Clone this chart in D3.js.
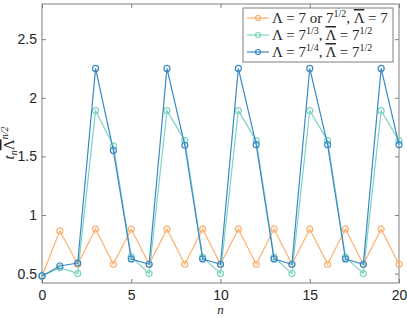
<!DOCTYPE html>
<html>
<head>
<meta charset="utf-8">
<script src="https://cdn.jsdelivr.net/npm/d3@7"></script>
<style>
  body { margin: 0; background: #fff; }
  svg text { fill: #262626; }
</style>
</head>
<body>
<div id="chart"></div>
<script>
// n = 0..20
var nValues = d3.range(0, 21);

// Lambda = 7 or 7^(1/2), LambdaBar = 7
var seriesA = [0.48, 0.865, 0.58, 0.88, 0.58, 0.88, 0.58, 0.88, 0.58, 0.88, 0.58,
               0.88, 0.58, 0.88, 0.58, 0.88, 0.58, 0.88, 0.58, 0.88, 0.58];
// Lambda = 7^(1/3), LambdaBar = 7^(1/2)
var seriesB = [0.48, 0.55, 0.50, 1.89, 1.59, 0.645, 0.50, 1.89, 1.635, 0.64, 0.50,
               1.89, 1.635, 0.64, 0.50, 1.89, 1.635, 0.64, 0.50, 1.89, 1.635];
// Lambda = 7^(1/4), LambdaBar = 7^(1/2)
var seriesC = [0.48, 0.565, 0.59, 2.25, 1.55, 0.625, 0.58, 2.25, 1.595, 0.625, 0.58,
               2.25, 1.60, 0.625, 0.58, 2.25, 1.60, 0.625, 0.58, 2.25, 1.60];

var xTicks = [0, 5, 10, 15, 20];
var yTicks = [0.5, 1, 1.5, 2, 2.5];
var colors = ['#fdae6b', '#7fd3c1', '#3a88c5'];

var width = 407, height = 318;
var margin = {top: 4, right: 8, bottom: 35, left: 42};

var svg = d3.select('#chart').append('svg')
    .attr('width', width)
    .attr('height', height);

var x = d3.scaleLinear().domain([0, 20]).range([margin.left, width - margin.right]);
var y = d3.scaleLinear().domain([0.42, 2.8]).range([height - margin.bottom, margin.top]);

var axisColor = '#7f7f7f';
var tickFont = '"Liberation Sans", Arial, sans-serif';

// axes with inward ticks on all sides
function styleAxis(g){
    g.select('.domain').remove();
    g.selectAll('.tick line').attr('stroke', axisColor);
    g.selectAll('.tick text').style('font-family', tickFont).style('font-size', '14px').attr('fill', '#262626');
}

svg.append('g')
    .attr('transform', 'translate(0,' + y.range()[0] + ')')
    .call(d3.axisBottom(x).tickValues(xTicks).tickSize(-4).tickPadding(7).tickFormat(d3.format('d')))
    .call(styleAxis);
svg.append('g')
    .attr('transform', 'translate(0,' + y.range()[1] + ')')
    .call(d3.axisTop(x).tickValues(xTicks).tickSize(-4).tickFormat(''))
    .call(styleAxis);
svg.append('g')
    .attr('transform', 'translate(' + x.range()[0] + ',0)')
    .call(d3.axisLeft(y).tickValues(yTicks).tickSize(-4).tickPadding(5).tickFormat(function(d){ return String(d); }))
    .call(styleAxis);
svg.append('g')
    .attr('transform', 'translate(' + x.range()[1] + ',0)')
    .call(d3.axisRight(y).tickValues(yTicks).tickSize(-4).tickFormat(''))
    .call(styleAxis);

svg.append('rect')
    .attr('x', x.range()[0])
    .attr('y', y.range()[1])
    .attr('width', x.range()[1] - x.range()[0])
    .attr('height', y.range()[0] - y.range()[1])
    .attr('fill', 'none')
    .attr('stroke', axisColor)
    .attr('stroke-width', 1);

// series
var allSeries = [seriesA, seriesB, seriesC];
var line = d3.line()
    .x(function(d, i){ return x(nValues[i]); })
    .y(function(d){ return y(d); });

allSeries.forEach(function(s, k){
    var g = svg.append('g');
    g.append('path')
        .attr('d', line(s))
        .attr('fill', 'none')
        .attr('stroke', colors[k])
        .attr('stroke-width', 1.2);
    g.selectAll('circle').data(s).enter().append('circle')
        .attr('cx', function(d, i){ return x(nValues[i]); })
        .attr('cy', function(d){ return y(d); })
        .attr('r', 3)
        .attr('fill', 'none')
        .attr('stroke', colors[k])
        .attr('stroke-width', 1.2);
});

// axis labels
var serif = '"Liberation Serif", "DejaVu Serif", serif';
svg.append('text')
    .attr('x', (x.range()[0] + x.range()[1]) / 2)
    .attr('y', 314)
    .attr('text-anchor', 'middle')
    .style('font-family', serif)
    .style('font-style', 'italic')
    .style('font-size', '13px')
    .text('n');

var ylab = svg.append('text')
    .attr('transform', 'translate(14,143) rotate(-90)')
    .attr('text-anchor', 'middle')
    .style('font-family', serif)
    .style('font-size', '15px');
ylab.append('tspan').style('font-style', 'italic').text('t');
ylab.append('tspan').attr('dy', 3).style('font-style', 'italic').style('font-size', '10px').text('n');
ylab.append('tspan').attr('dy', -3).style('text-decoration', 'overline').text('\u039B');
ylab.append('tspan').attr('dy', -6).style('font-style', 'italic').style('font-size', '10px').text('n/2');

// legend
var legendLabels = [
    [['\u039B = 7 or 7', 0], ['1/2', 1], [', ', 0], ['\u039B', 2], [' = 7', 0]],
    [['\u039B = 7', 0], ['1/3', 1], [', ', 0], ['\u039B', 2], [' = 7', 0], ['1/2', 1]],
    [['\u039B = 7', 0], ['1/4', 1], [', ', 0], ['\u039B', 2], [' = 7', 0], ['1/2', 1]]
];
var lx = 243, ly = 8;
svg.append('rect')
    .attr('x', lx).attr('y', ly)
    .attr('width', 150).attr('height', 54)
    .attr('fill', '#fff')
    .attr('stroke', axisColor);

legendLabels.forEach(function(parts, k){
    var cy = ly + 10 + k * 17;
    svg.append('line')
        .attr('x1', lx + 4).attr('x2', lx + 26)
        .attr('y1', cy).attr('y2', cy)
        .attr('stroke', colors[k]).attr('stroke-width', 1.2);
    svg.append('circle')
        .attr('cx', lx + 15).attr('cy', cy).attr('r', 2.5)
        .attr('fill', 'none').attr('stroke', colors[k]).attr('stroke-width', 1.2);
    var t = svg.append('text')
        .attr('x', lx + 29).attr('y', cy + 5)
        .style('font-family', serif)
        .style('font-size', '15px');
    var raised = false;
    parts.forEach(function(p){
        var ts = t.append('tspan').text(p[0]);
        if(p[1] === 1){
            ts.attr('dy', -6).style('font-size', '10px');
            raised = true;
        }
        else{
            if(raised){ ts.attr('dy', 6); raised = false; }
            if(p[1] === 2){ ts.style('text-decoration', 'overline'); }
        }
    });
});
</script>
</body>
</html>
